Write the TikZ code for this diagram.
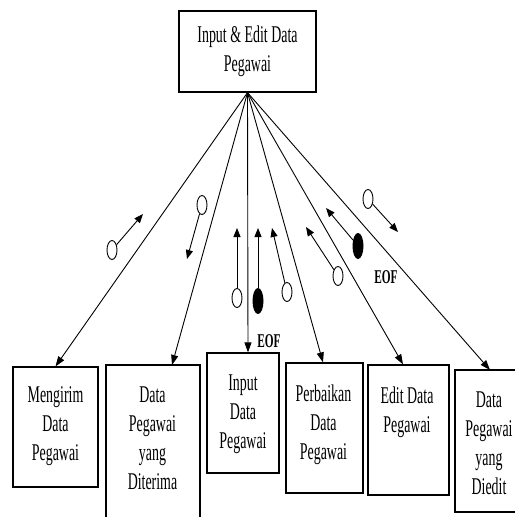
\documentclass[tikz,border=0pt]{standalone}
\usepackage{fontspec}
\setmainfont{Liberation Serif}[FakeStretch=0.58]
\usetikzlibrary{arrows.meta,shapes.geometric}
\begin{document}
\begin{tikzpicture}[x=1pt,y=-1pt,
  box/.style={draw,line width=1.2pt,inner sep=0pt},
  frame/.style={inner sep=0pt,outer sep=0pt},
  boxtext/.style={align=center,inner sep=0pt,anchor=north,font=\fontsize{24}{29}\selectfont},
  flow/.style={line width=0.9pt,-{Triangle[length=10pt,width=7pt]}},
  couple/.style={line width=0.9pt,-{Triangle[length=9pt,width=7pt]}},
  opendot/.style={ellipse,draw,line width=0.9pt,fill=white,inner sep=0pt,minimum width=10pt,minimum height=19pt},
  fulldot/.style={ellipse,fill=black,inner sep=0pt,minimum width=11pt,minimum height=26pt},
  eof/.style={inner sep=0pt,font=\fontsize{19.5}{22}\selectfont\bfseries}]
\useasboundingbox (0,0) rectangle (515,517);

% parent module
\node[box,minimum width=137pt,minimum height=81pt,align=center,
  font=\fontsize{24}{29}\selectfont] (top) at (247.5,51.5) {Input \& Edit Data\\Pegawai};

% child modules
\node[box,minimum width=85pt,minimum height=120pt] (b1) at (55.5,427) {};
\node[boxtext] (b1t) at (55.5,386) {Mengirim\\Data\\Pegawai};

\node[frame,minimum width=94pt,minimum height=152pt] (b2) at (153,441) {};
\draw[line width=1.2pt] (b2.south west) -- (b2.north west) -- (b2.north east) -- (b2.south east);
\node[boxtext] (b2t) at (152.5,387) {Data\\Pegawai\\yang\\Diterima};

\node[box,minimum width=72pt,minimum height=120pt] (b3) at (243,413) {};
\node[boxtext] (b3t) at (243,375) {Input\\Data\\Pegawai};

\node[box,minimum width=77pt,minimum height=130pt] (b4) at (324.5,428) {};
\node[boxtext] (b4t) at (323.5,385) {Perbaikan\\Data\\Pegawai};

\node[box,minimum width=81pt,minimum height=130pt] (b5) at (408.5,430) {};
\node[boxtext] (b5t) at (407,387) {Edit Data\\Pegawai};

\node[frame,minimum width=60pt,minimum height=142pt] (b6) at (485,441) {};
\draw[line width=1.2pt] (b6.north east) -- (b6.north west) -- (b6.south west) -- (b6.south east);
\node[boxtext] (b6t) at (489,392) {Data\\Pegawai\\yang\\Diedit};

% calls from the parent module
\draw[flow] (top.south) -- (b1.north);
\draw[flow] (top.south) -- ([xshift=19pt]b2.north);
\draw[flow] (top.south) -- ([xshift=5pt]b3.north);
\draw[flow] (top.south) -- ([xshift=-1.5pt]b4.north);
\draw[flow] (top.south) -- ([xshift=-5.5pt]b5.north);
\draw[flow] (top.south) -- ([xshift=5pt]b6.north);

% data couples
\node[opendot] (c1) at (112,250) {};
\coordinate (c1h) at (143,214);
\draw[couple] (c1) -- (c1h);

\node[opendot] (c2) at (202,205) {};
\coordinate (c2h) at (187,259);
\draw[couple] (c2) -- (c2h);

\node[opendot] (c3) at (237,298) {};
\coordinate (c3h) at (237,228);
\draw[couple] (c3) -- (c3h);

\node[fulldot] (c4) at (258,301) {};
\coordinate (c4h) at (258,228);
\draw[couple] (c4) -- (c4h);

\node[opendot] (c5) at (287,292) {};
\coordinate (c5h) at (272,228);
\draw[couple] (c5) -- (c5h);

\node[opendot] (c6) at (338,276) {};
\coordinate (c6h) at (306,227);
\draw[couple] (c6) -- (c6h);

\node[fulldot] (c7) at (358,246) {};
\coordinate (c7h) at (326,208);
\draw[couple] (c7) -- (c7h);

\node[opendot] (c8) at (368,199) {};
\coordinate (c8h) at (398,232);
\draw[couple] (c8) -- (c8h);

% end-of-file flags
\node[eof] (e1) at (269,341) {EOF};
\node[eof] (e2) at (386,277) {EOF};
\end{tikzpicture}
\end{document}
